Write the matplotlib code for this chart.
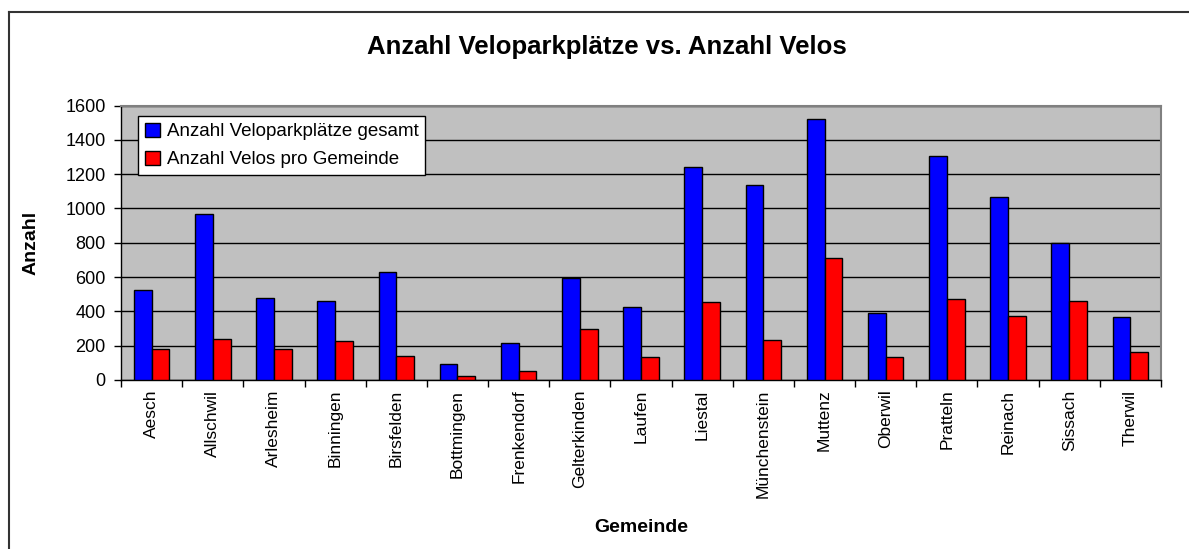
import matplotlib
matplotlib.use("Agg")
import matplotlib.pyplot as plt
import numpy as np
from matplotlib.lines import Line2D

plt.rcParams['font.family'] = ['Liberation Sans', 'DejaVu Sans']

gemeinden = ["Aesch", "Allschwil", "Arlesheim", "Binningen", "Birsfelden",
             "Bottmingen", "Frenkendorf", "Gelterkinden", "Laufen", "Liestal",
             "Münchenstein", "Muttenz", "Oberwil", "Pratteln", "Reinach",
             "Sissach", "Therwil"]
parkplaetze = [524, 968, 477, 461, 631, 93, 218, 592, 428, 1240,
               1139, 1521, 389, 1303, 1069, 796, 366]
velos = [179, 241, 179, 226, 140, 23, 55, 296, 132, 452,
         234, 709, 132, 475, 374, 460, 164]
yticks = [0, 200, 400, 600, 800, 1000, 1200, 1400, 1600]

W, H = 1189, 549
fig = plt.figure(figsize=(W / 100, H / 100), dpi=100)
ax = fig.add_axes([121 / W, 1 - 380 / H, 1040 / W, 274.5 / H])
ax.set_facecolor("#C0C0C0")

x = np.arange(len(gemeinden))
bw = 0.29
ax.bar(x - bw / 2, parkplaetze, bw, color="#0000FF", edgecolor="black",
       linewidth=1, label="Anzahl Veloparkplätze gesamt", zorder=3)
ax.bar(x + bw / 2, velos, bw, color="#FF0000", edgecolor="black",
       linewidth=1, label="Anzahl Velos pro Gemeinde", zorder=3)

ax.set_xlim(-0.5, len(gemeinden) - 0.5)
ax.set_ylim(0, 1600)
ax.set_yticks(yticks)
ax.yaxis.grid(True, color="black", linewidth=1, zorder=1)
ax.set_axisbelow(True)
ax.tick_params(axis="y", labelsize=13, length=5, width=1, direction="out", pad=6)

ax.set_xticks(x)
ax.set_xticklabels(gemeinden, rotation=90, fontsize=12.5)
ax.tick_params(axis="x", length=0, pad=7)
ax.set_xticks(np.arange(-0.5, len(gemeinden), 1.0), minor=True)
ax.tick_params(axis="x", which="minor", length=5, width=1, direction="out")

for s in ["top", "right"]:
    ax.spines[s].set_color("#808080")
    ax.spines[s].set_linewidth(1.5)
for s in ["left", "bottom"]:
    ax.spines[s].set_color("black")
    ax.spines[s].set_linewidth(1)

ax.set_ylabel("Anzahl", fontsize=14, fontweight="bold")
ax.set_xlabel("Gemeinde", fontsize=14, fontweight="bold")
ax.xaxis.set_label_coords(0.5, 1 - (519 - 105.5) / 274.5)
ax.yaxis.set_label_coords((40 - 121) / 1040, 0.5)

fig.text(607 / W, 1 - 47 / H, "Anzahl Veloparkplätze vs. Anzahl Velos",
         fontsize=18.5, fontweight="bold", ha="center", va="center")

leg = ax.legend(loc="upper left", bbox_to_anchor=((138 - 121) / 1040, (380 - 116) / 274.5),
                fontsize=13.5, frameon=True, fancybox=False, framealpha=1,
                edgecolor="black", handlelength=0.8, handleheight=0.8,
                handletextpad=0.4, borderpad=0.35, labelspacing=0.55,
                borderaxespad=0)
leg.get_frame().set_linewidth(1)

fig.add_artist(Line2D([8.5 / W, 8.5 / W], [1 - 11.5 / H, 0], transform=fig.transFigure,
                      color="#333333", linewidth=1.5))
fig.add_artist(Line2D([8.5 / W, 1], [1 - 11.5 / H, 1 - 11.5 / H], transform=fig.transFigure,
                      color="#333333", linewidth=1.5))

fig.savefig("out.png", dpi=100)
